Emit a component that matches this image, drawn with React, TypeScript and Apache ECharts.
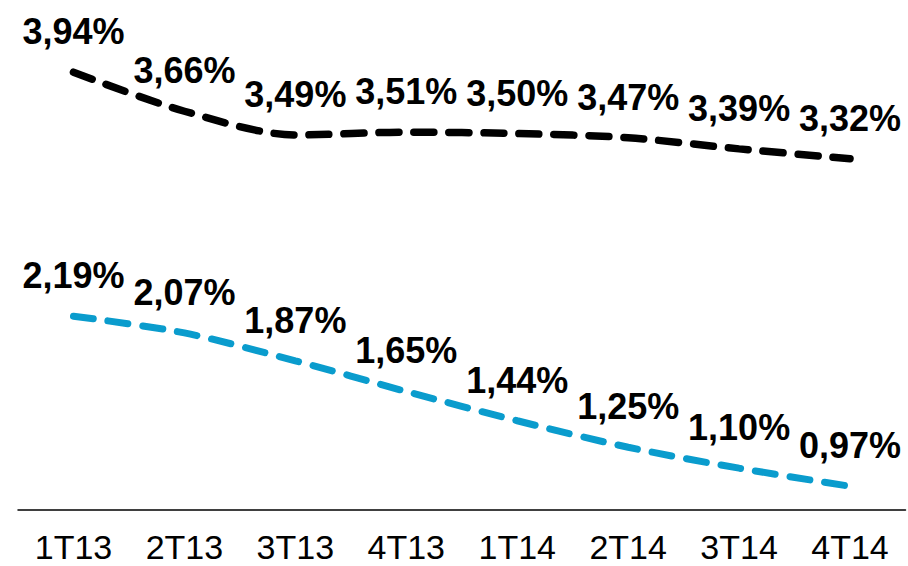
import React, { useEffect, useRef } from "react";
import * as echarts from "echarts";

const categories = ["1T13", "2T13", "3T13", "4T13", "1T14", "2T14", "3T14", "4T14"];
const blackValues = [3.94, 3.66, 3.49, 3.51, 3.5, 3.47, 3.39, 3.32];
const blueValues = [2.19, 2.07, 1.87, 1.65, 1.44, 1.25, 1.1, 0.97];

const FONT = "'Liberation Sans', Arial, sans-serif";

const fmt = (v: number) => v.toFixed(2).replace(".", ",") + "%";

export default function App() {
  const ref = useRef<HTMLDivElement>(null);
  useEffect(() => {
    if (!ref.current) return;
    const chart = echarts.init(ref.current, null, { renderer: "svg" });
    const labelCfg = {
      show: true,
      position: "top" as const,
      distance: 22,
      color: "#000",
      fontFamily: FONT,
      fontWeight: "bold" as const,
      fontSize: 36,
      formatter: (p: any) => fmt(p.value),
    };
    const mkSeries = (data: number[], color: string, width: number) => ({
      type: "line",
      data,
      smooth: 0.3,
      symbol: "circle",
      symbolSize: 1,
      itemStyle: { color: "rgba(0,0,0,0)" },
      lineStyle: { color, width, type: [20, 15], cap: "round" },
      label: labelCfg,
      emphasis: { disabled: true },
    });
    chart.setOption({
      animation: false,
      grid: { left: 18, right: 2.5, top: 22, bottom: 56 },
      xAxis: {
        type: "category",
        data: categories,
        boundaryGap: true,
        axisLine: { show: true, lineStyle: { color: "#000", width: 1.5 } },
        axisTick: { show: false },
        axisLabel: { color: "#000", fontFamily: FONT, fontSize: 34, lineHeight: 28, margin: 23 },
      },
      yAxis: {
        type: "value",
        min: 0.8,
        max: 4.3,
        show: false,
        splitLine: { show: false },
      },
      series: [mkSeries(blackValues, "#000000", 7.5), mkSeries(blueValues, "#0a9ccd", 7)],
    });
    return () => chart.dispose();
  }, []);
  return (
    <div
      ref={ref}
      style={{ position: "fixed", left: 0, top: 0, width: 908, height: 566, background: "#fff" }}
    />
  );
}
